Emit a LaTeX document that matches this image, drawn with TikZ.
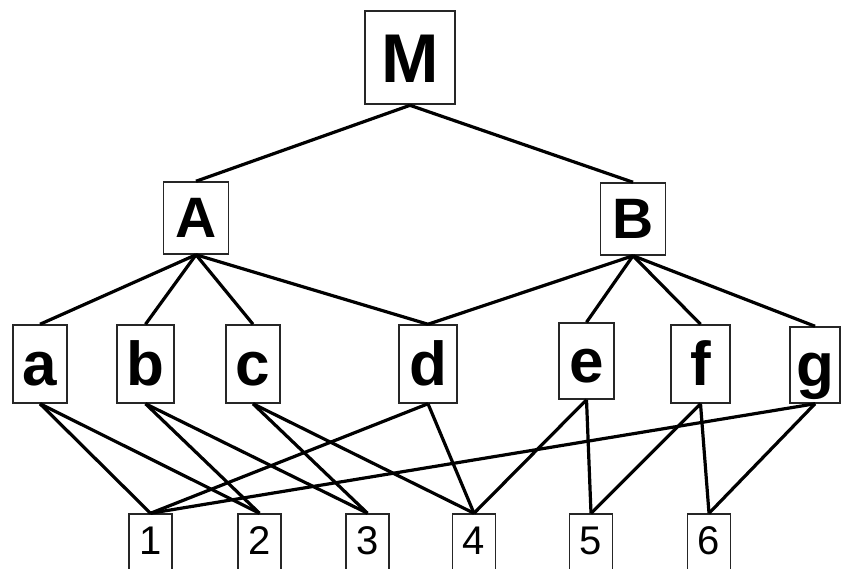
\documentclass[tikz,border=0pt]{standalone}
\usepackage{fontspec}
\setmainfont{Liberation Sans}
\begin{document}
\begin{tikzpicture}[x=1pt,y=-1pt,
  box/.style={draw=black!85,line width=1.5pt,inner sep=0pt,fill=white},
  topbox/.style={box,line width=2.6pt,minimum width=90pt,minimum height=93pt,text height=49pt,text depth=0pt,font=\fontsize{69}{69}\selectfont\bfseries},
  midbox/.style={box,minimum width=65pt,minimum height=72pt,text height=39pt,text depth=0pt,font=\fontsize{57}{57}\selectfont\bfseries},
  lowbox/.style={box,minimum height=78pt,text height=42pt,text depth=0pt,font=\fontsize{62}{62}\selectfont\bfseries},
  numbox/.style={box,minimum width=43pt,minimum height=56pt,text height=25pt,text depth=0pt,font=\fontsize{40}{40}\selectfont},
  link/.style={line width=3.2pt,black}]
\useasboundingbox (0,0) rectangle (842,568);
\clip (0,0) rectangle (842,568);
% nodes
\node[topbox] (M) at (410,57.5) {M};
\node[midbox] (A) at (196,218) {A};
\node[midbox] (B) at (633,219) {B};
\node[lowbox,minimum width=54pt] (a) at (40,364) {a};
\node[lowbox,minimum width=57pt] (b) at (145.5,364) {b};
\node[lowbox,minimum width=54pt] (c) at (253,364) {c};
\node[lowbox,minimum width=58pt] (d) at (428,364) {d};
\node[lowbox,minimum width=55pt,minimum height=76pt] (e) at (586.5,361) {e};
\node[lowbox,minimum width=59pt] (f) at (700.5,364) {f};
\node[lowbox,minimum width=50pt,minimum height=76pt] (g) at (815,365) {g};
\node[numbox] (n1) at (150.5,542) {1};
\node[numbox] (n2) at (259.5,542) {2};
\node[numbox] (n3) at (367.5,542) {3};
\node[numbox] (n4) at (474,542) {4};
\node[numbox] (n5) at (591,542) {5};
\node[numbox] (n6) at (709,542) {6};
% connectors
\draw[link] (M.south) -- (A.north);
\draw[link] (M.south) -- (B.north);
\foreach \t in {a,b,c,d} \draw[link] (A.south) -- (\t.north);
\foreach \t in {d,e,f,g} \draw[link] (B.south) -- (\t.north);
\draw[link] (a.south) -- (n1.north);
\draw[link] (a.south) -- (n2.north);
\draw[link] (b.south) -- (n2.north);
\draw[link] (b.south) -- (n3.north);
\draw[link] (c.south) -- (n3.north);
\draw[link] (c.south) -- (n4.north);
\draw[link] (d.south) -- (n1.north);
\draw[link] (d.south) -- (n4.north);
\draw[link] (e.south) -- (n4.north);
\draw[link] (e.south) -- (n5.north);
\draw[link] (f.south) -- (n5.north);
\draw[link] (f.south) -- (n6.north);
\draw[link] (g.south) -- (n1.north);
\draw[link] (g.south) -- (n6.north);
\end{tikzpicture}
\end{document}
